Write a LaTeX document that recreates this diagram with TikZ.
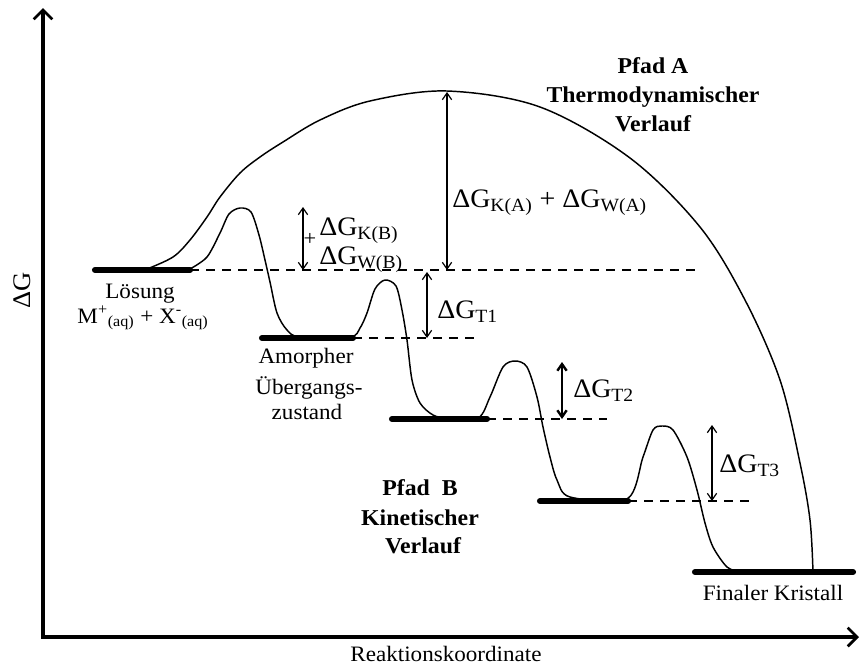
\documentclass[tikz,border=0pt]{standalone}
\usepackage{fontspec}
\setmainfont{Liberation Serif}[FakeStretch=1.05]
\usetikzlibrary{arrows.meta}
\tikzset{
  axisline/.style={line width=2.4pt, line join=miter,
    {Straight Barb[length=7pt,width=14pt,line width=2pt]}-{Straight Barb[length=7pt,width=14pt,line width=2pt]}},
  levelbar/.style={line width=4.6pt, line cap=round},
  pathcurve/.style={line width=1.1pt},
  dashline/.style={line width=1.1pt, dash pattern=on 7pt off 5pt},
  dimarrow/.style={line width=0.9pt,
    {Straight Barb[length=5pt,width=7pt]}-{Straight Barb[length=5pt,width=7pt]}},
  lbl/.style={font=\fontsize{16.5}{19}\selectfont, anchor=base, inner sep=0pt},
  dglbl/.style={font=\fontsize{20}{24}\selectfont, anchor=base west, inner sep=0pt},
  boldlbl/.style={font=\fontsize{17}{20}\selectfont\bfseries, anchor=base, inner sep=0pt},
}
\begin{document}
\begin{tikzpicture}[x=0.75pt,y=-0.75pt]
\useasboundingbox (0,0) rectangle (861,668);

% axes
\coordinate (ytop) at (43,8);
\coordinate (origin) at (43,637);
\coordinate (xend) at (859,637);
\draw[axisline] (ytop) -- (origin) -- (xend);
\node[font=\fontsize{19}{22}\selectfont, rotate=90, inner sep=0pt] (ylab) at (22,290) {ΔG};
\node[lbl] (xlab) at (446,661) {Reaktionskoordinate};

% thermodynamic path (A)
\draw[pathcurve] plot[smooth, tension=0.55] coordinates {
 (147,269) (173,257) (190,240) (207,217) (220,197) (240,173) (260,157)
 (283,142) (320,120) (370,101) (447,91) (540,107) (630,158) (700,227) (745,300)
 (780,380) (800,463) (810,520) (813,572)};

% kinetic path (B)
\draw[pathcurve] plot[smooth, tension=0.5] coordinates {
 (190,269) (207,257) (220,233) (229,214) (240,208) (251,212) (259,235) (265,260)
 (270,282) (277,313) (287,330) (300,337) (350,337) (360,328) (367,313) (375,289)
 (385,280) (396,286) (402,310) (407,340) (412,380) (420,403) (433,415) (447,418)
 (478,418) (490,397) (503,367) (515,361) (527,367) (537,397) (543,427) (550,457)
 (557,480) (570,497) (627,499) (643,457) (653,430) (662,426) (673,430) (687,457)
 (697,490) (705,523) (713,547) (727,567) (740,572)};

% levels
\coordinate (l1a) at (95,270);  \coordinate (l1b) at (190,270);
\coordinate (l2a) at (262,338); \coordinate (l2b) at (353,338);
\coordinate (l3a) at (392,419); \coordinate (l3b) at (487,419);
\coordinate (l4a) at (540,501); \coordinate (l4b) at (628,501);
\coordinate (l5a) at (695,572); \coordinate (l5b) at (853,572);
\draw[levelbar] (l1a) -- (l1b);
\draw[levelbar] (l2a) -- (l2b);
\draw[levelbar] (l3a) -- (l3b);
\draw[levelbar] (l4a) -- (l4b);
\draw[levelbar] (l5a) -- (l5b);

% dashed reference lines
\coordinate (d1) at (695,270);
\coordinate (d2) at (477,338);
\coordinate (d3) at (607,419);
\coordinate (d4) at (752,501);
\draw[dashline] (l1b) -- (d1);
\draw[dashline] (l2b) -- (d2);
\draw[dashline] (l3b) -- (d3);
\draw[dashline] (l4b) -- (d4);

% energy arrows
\coordinate (kaT) at (447,92);  \coordinate (kaB) at (447,270);
\coordinate (kbT) at (303,207); \coordinate (kbB) at (303,270);
\coordinate (t1T) at (427,272); \coordinate (t1B) at (427,338);
\coordinate (t2T) at (562,362); \coordinate (t2B) at (562,419);
\coordinate (t3T) at (712,425); \coordinate (t3B) at (712,501);
\draw[dimarrow] (kaT) -- (kaB);
\draw[dimarrow] (kbT) -- (kbB);
\draw[dimarrow] (t1T) -- (t1B);
\draw[dimarrow, line width=1.8pt] (t2T) -- (t2B);
\draw[dimarrow] (t3T) -- (t3B);

\node[dglbl] (lka) at (452,207) {ΔG\textsubscript{K(A)} + ΔG\textsubscript{W(A)}};
\node[dglbl] (lkb1) at (319,235) {ΔG\textsubscript{K(B)}};
\node[font=\fontsize{16}{18}\selectfont, inner sep=0pt] (plus) at (310,239) {+};
\node[dglbl] (lkb2) at (319,264) {ΔG\textsubscript{W(B)}};
\node[dglbl] (lt1) at (437,318) {ΔG\textsubscript{T1}};
\node[dglbl] (lt2) at (573,397) {ΔG\textsubscript{T2}};
\node[dglbl] (lt3) at (719,472) {ΔG\textsubscript{T3}};

% state labels
\node[lbl] (loes) at (140,298) {Lösung};
\node[lbl] (ions) at (143,323) {M\textsuperscript{+}\textsubscript{(aq)} + X\textsuperscript{-}\textsubscript{(aq)}};
\node[lbl] (am1) at (306,363) {Amorpher};
\node[lbl] (am2) at (309,394) {Übergangs-};
\node[lbl] (am3) at (307,419) {zustand};
\node[lbl] (fin) at (773,600) {Finaler Kristall};

% path titles
\node[boldlbl] (pa1) at (653,73) {Pfad A};
\node[boldlbl] (pa2) at (653,102) {Thermodynamischer};
\node[boldlbl] (pa3) at (653,131) {Verlauf};
\node[boldlbl] (pb1) at (420,495) {Pfad\ \ B};
\node[boldlbl] (pb2) at (420,525) {Kinetischer};
\node[boldlbl] (pb3) at (423,553) {Verlauf};
\end{tikzpicture}
\end{document}
